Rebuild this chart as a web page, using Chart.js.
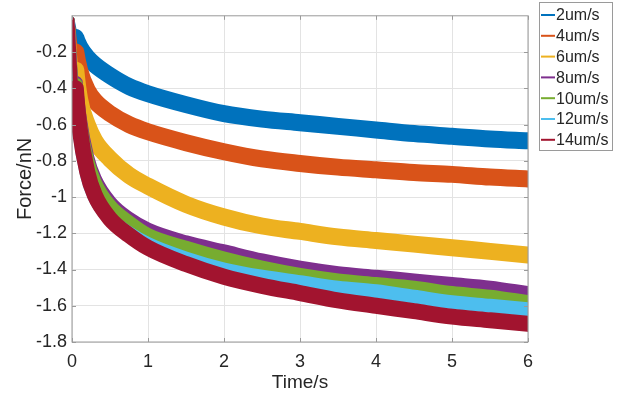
<!DOCTYPE html>
<html>
<head>
<meta charset="utf-8">
<script src="https://cdn.jsdelivr.net/npm/chart.js@4.4.0/dist/chart.umd.min.js"></script>
<style>
html, body { margin: 0; padding: 0; background: #fff; }
#wrap { width: 633px; height: 398px; }
</style>
</head>
<body>
<div id="wrap"><canvas id="chart"></canvas></div>
<script>
// time samples (s)
const times = [0, 0.05, 0.1, 0.2, 0.3, 0.5, 0.75, 1, 1.5, 2, 2.5, 3, 3.5, 4, 4.5, 5, 5.5, 6];

// force (nN)
const f2  = [-0.02, -0.12, -0.17, -0.23, -0.27, -0.33, -0.39, -0.43, -0.49, -0.54, -0.57, -0.59, -0.61, -0.63, -0.65, -0.665, -0.68, -0.69];
const f4  = [-0.02, -0.20, -0.30, -0.41, -0.47, -0.54, -0.60, -0.64, -0.70, -0.75, -0.79, -0.815, -0.835, -0.85, -0.865, -0.875, -0.89, -0.90];
const f6  = [-0.02, -0.30, -0.46, -0.60, -0.69, -0.79, -0.88, -0.94, -1.04, -1.11, -1.16, -1.19, -1.22, -1.24, -1.26, -1.28, -1.30, -1.32];
const f8  = [-0.02, -0.37, -0.56, -0.78, -0.90, -1.03, -1.12, -1.18, -1.25, -1.30, -1.35, -1.39, -1.42, -1.44, -1.46, -1.48, -1.50, -1.53];
const f10 = [-0.02, -0.38, -0.58, -0.80, -0.92, -1.05, -1.14, -1.21, -1.28, -1.34, -1.39, -1.43, -1.46, -1.48, -1.50, -1.53, -1.55, -1.58];
const f12 = [-0.02, -0.42, -0.65, -0.88, -1.00, -1.12, -1.20, -1.26, -1.34, -1.40, -1.44, -1.47, -1.50, -1.52, -1.55, -1.58, -1.60, -1.62];
const f14 = [-0.02, -0.40, -0.62, -0.86, -0.99, -1.12, -1.21, -1.28, -1.37, -1.44, -1.49, -1.53, -1.57, -1.60, -1.63, -1.66, -1.68, -1.70];

const seriesNames = ['2um/s', '4um/s', '6um/s', '8um/s', '10um/s', '12um/s', '14um/s'];
const seriesValues = [f2, f4, f6, f8, f10, f12, f14];
const colors = ['#0072BD', '#D95319', '#EDB120', '#7E2F8E', '#77AC30', '#4DBEEE', '#A2142F'];
const bandWidths = [17, 17, 17, 14, 14, 14, 16];

const xTicks = [0, 1, 2, 3, 4, 5, 6];
const yTicks = [-1.8, -1.6, -1.4, -1.2, -1, -0.8, -0.6, -0.4, -0.2];

const frameColor = '#9a9a9a';
const textColor = '#262626';
const fontFam = '"Liberation Sans", Arial, sans-serif';

// legend box like matlab, drawn on the canvas
const boxLegend = {
	id: 'boxLegend',
	afterDraw(chart) {
		const ctx = chart.ctx;
		ctx.save();
		ctx.fillStyle = '#fff';
		ctx.fillRect(539.5, 2.5, 73, 148);
		ctx.strokeStyle = frameColor;
		ctx.lineWidth = 1;
		ctx.strokeRect(539.5, 2.5, 73, 148);
		ctx.font = '16px ' + fontFam;
		ctx.textBaseline = 'middle';
		chart.data.datasets.forEach(function (ds, i) {
			let y = 15 + i * 20.8;
			ctx.strokeStyle = ds.borderColor;
			ctx.lineWidth = 2;
			ctx.beginPath();
			ctx.moveTo(541, y);
			ctx.lineTo(555, y);
			ctx.stroke();
			ctx.fillStyle = textColor;
			ctx.fillText(ds.label, 556, y + 1);
		});
		ctx.restore();
	}
};

// small inward ticks on all four sides
const innerTicks = {
	id: 'innerTicks',
	afterDraw(chart) {
		const ctx = chart.ctx;
		const a = chart.chartArea;
		const xs = chart.scales.x, ys = chart.scales.y;
		ctx.save();
		ctx.strokeStyle = frameColor;
		ctx.lineWidth = 1;
		ctx.beginPath();
		xTicks.forEach(function (t) {
			let px = Math.round(xs.getPixelForValue(t)) + 0.5;
			ctx.moveTo(px, a.bottom); ctx.lineTo(px, a.bottom - 4);
			ctx.moveTo(px, a.top); ctx.lineTo(px, a.top + 4);
		});
		yTicks.forEach(function (t) {
			let py = Math.round(ys.getPixelForValue(t)) + 0.5;
			ctx.moveTo(a.left, py); ctx.lineTo(a.left + 4, py);
			ctx.moveTo(a.right, py); ctx.lineTo(a.right - 4, py);
		});
		ctx.stroke();
		ctx.strokeRect(a.left, a.top, a.right - a.left, a.bottom - a.top);
		ctx.restore();
	}
};

const datasets = seriesNames.map(function (name, i) {
	return {
		label: name,
		data: times.map(function (t, k) { return { x: t, y: seriesValues[i][k] }; }),
		borderColor: colors[i],
		backgroundColor: colors[i],
		borderWidth: bandWidths[i],
		borderJoinStyle: 'round',
		borderCapStyle: 'round',
		pointRadius: 0,
		cubicInterpolationMode: 'monotone',
		// first steep bit is thin where all curves meet at t = 0
		segment: {
			borderWidth: function (c) { return c.p0DataIndex === 0 ? 5 : undefined; }
		},
		order: seriesNames.length - i
	};
});

new Chart(document.getElementById('chart'), {
	type: 'line',
	data: { datasets: datasets },
	options: {
		responsive: true,
		maintainAspectRatio: false,
		animation: false,
		layout: { padding: { top: 3, right: 105, left: 0, bottom: 0 } },
		plugins: {
			legend: { display: false },
			tooltip: { enabled: false }
		},
		scales: {
			x: {
				type: 'linear',
				min: 0,
				max: 6,
				afterBuildTicks: function (s) { s.ticks = xTicks.map(function (v) { return { value: v }; }); },
				afterFit: function (s) { s.height = 56; },
				grid: { color: '#e3e3e3', drawTicks: false },
				border: { display: false },
				ticks: {
					padding: 9,
					color: textColor,
					font: { size: 18, family: fontFam },
					callback: function (v) { return String(v); }
				},
				title: {
					display: true,
					text: 'Time/s',
					color: textColor,
					padding: { top: 0, bottom: 4 },
					font: { size: 19, family: fontFam }
				}
			},
			y: {
				min: -1.8,
				max: 0,
				afterBuildTicks: function (s) { s.ticks = yTicks.map(function (v) { return { value: v }; }); },
				afterFit: function (s) { s.width = 72; },
				grid: { color: '#e3e3e3', drawTicks: false },
				border: { display: false },
				ticks: {
					padding: 5,
					color: textColor,
					font: { size: 18, family: fontFam },
					callback: function (v) { return String(Number(v.toFixed(1))); }
				},
				title: {
					display: true,
					text: 'Force/nN',
					color: textColor,
					padding: { top: 13, bottom: 0 },
					font: { size: 20, family: fontFam }
				}
			}
		}
	},
	plugins: [innerTicks, boxLegend]
});
</script>
</body>
</html>
